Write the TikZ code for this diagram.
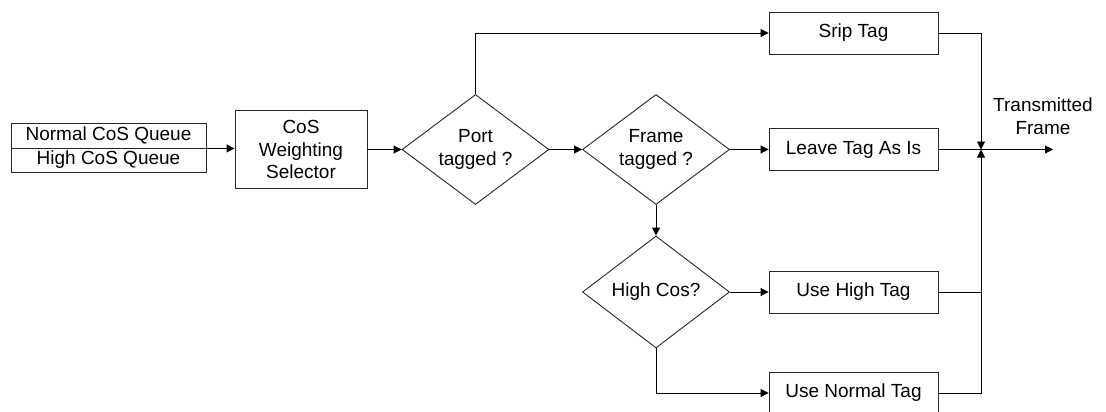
\documentclass[tikz,border=0pt]{standalone}
\usepackage{fontspec}
\setmainfont{Liberation Sans}
\usetikzlibrary{shapes.geometric,arrows.meta}
\begin{document}
\begin{tikzpicture}[x=1pt,y=-1pt,
  every node/.style={font=\fontsize{19}{22.5}\selectfont, align=center},
  box/.style={draw=black!85, line width=0.9pt, rectangle, inner sep=0pt, minimum width=169pt, minimum height=42pt},
  qbox/.style={draw=black!85, line width=0.9pt, rectangle, inner sep=0pt, minimum width=195pt},
  dec/.style={draw=black!85, line width=0.9pt, diamond, aspect=1.34, inner sep=0pt, minimum width=147pt, minimum height=110pt},
  conn/.style={draw=black, line width=0.9pt},
  arr/.style={conn, -{Triangle[length=8pt,width=8pt]}}
]
\useasboundingbox (0,0) rectangle (1106,412);
\clip (0,0) rectangle (1106,412);
% nodes
\node[qbox, minimum height=25pt] (qn) at (108.5,135.5) {Normal CoS Queue};
\node[qbox, minimum height=24pt] (qh) at (108.5,160) {High CoS Queue};
\node[draw=black!85, line width=0.9pt, inner sep=0pt, minimum width=132pt, minimum height=78pt] (cos) at (301,149.5) {CoS\\Weighting\\Selector};
\node[dec] (port) at (475.5,149.5) {Port\\tagged ?};
\node[dec] (frame) at (656,149.5) {Frame\\tagged ?};
\node[dec, minimum height=112pt] (hicos) at (656,292) {High Cos?};
\node[box] (strip) at (853.5,33) {Srip Tag};
\node[box] (leave) at (853.5,149.5) {Leave Tag As Is};
\node[box] (uhigh) at (853.5,292) {Use High Tag};
\node[box] (unorm) at (853.5,393) {Use Normal Tag};
\coordinate (j) at (981,149.5);
\coordinate (out) at (1053,149.5);
\node (tf) at (1043,116) {Transmitted\\Frame};
% connectors
\draw[arr] (qn.south east) -- (qn.south east -| cos.west);
\draw[arr] (cos.east) -- (port.west);
\draw[arr] (port.east) -- (frame.west);
\draw[arr] (port.north) |- (strip.west);
\draw[arr] (frame.east) -- (leave.west);
\draw[arr] (frame.south) -- (hicos.north);
\draw[arr] (hicos.east) -- (uhigh.west);
\draw[arr] (hicos.south) |- (unorm.west);
\draw[arr] (strip.east) -| (j);
\draw[arr] (unorm.east) -| (j);
\draw[conn] (uhigh.east) -- (uhigh.east -| j);
\draw[conn] (leave.east) -- (j);
\draw[arr] (j) -- (out);
\end{tikzpicture}
\end{document}
